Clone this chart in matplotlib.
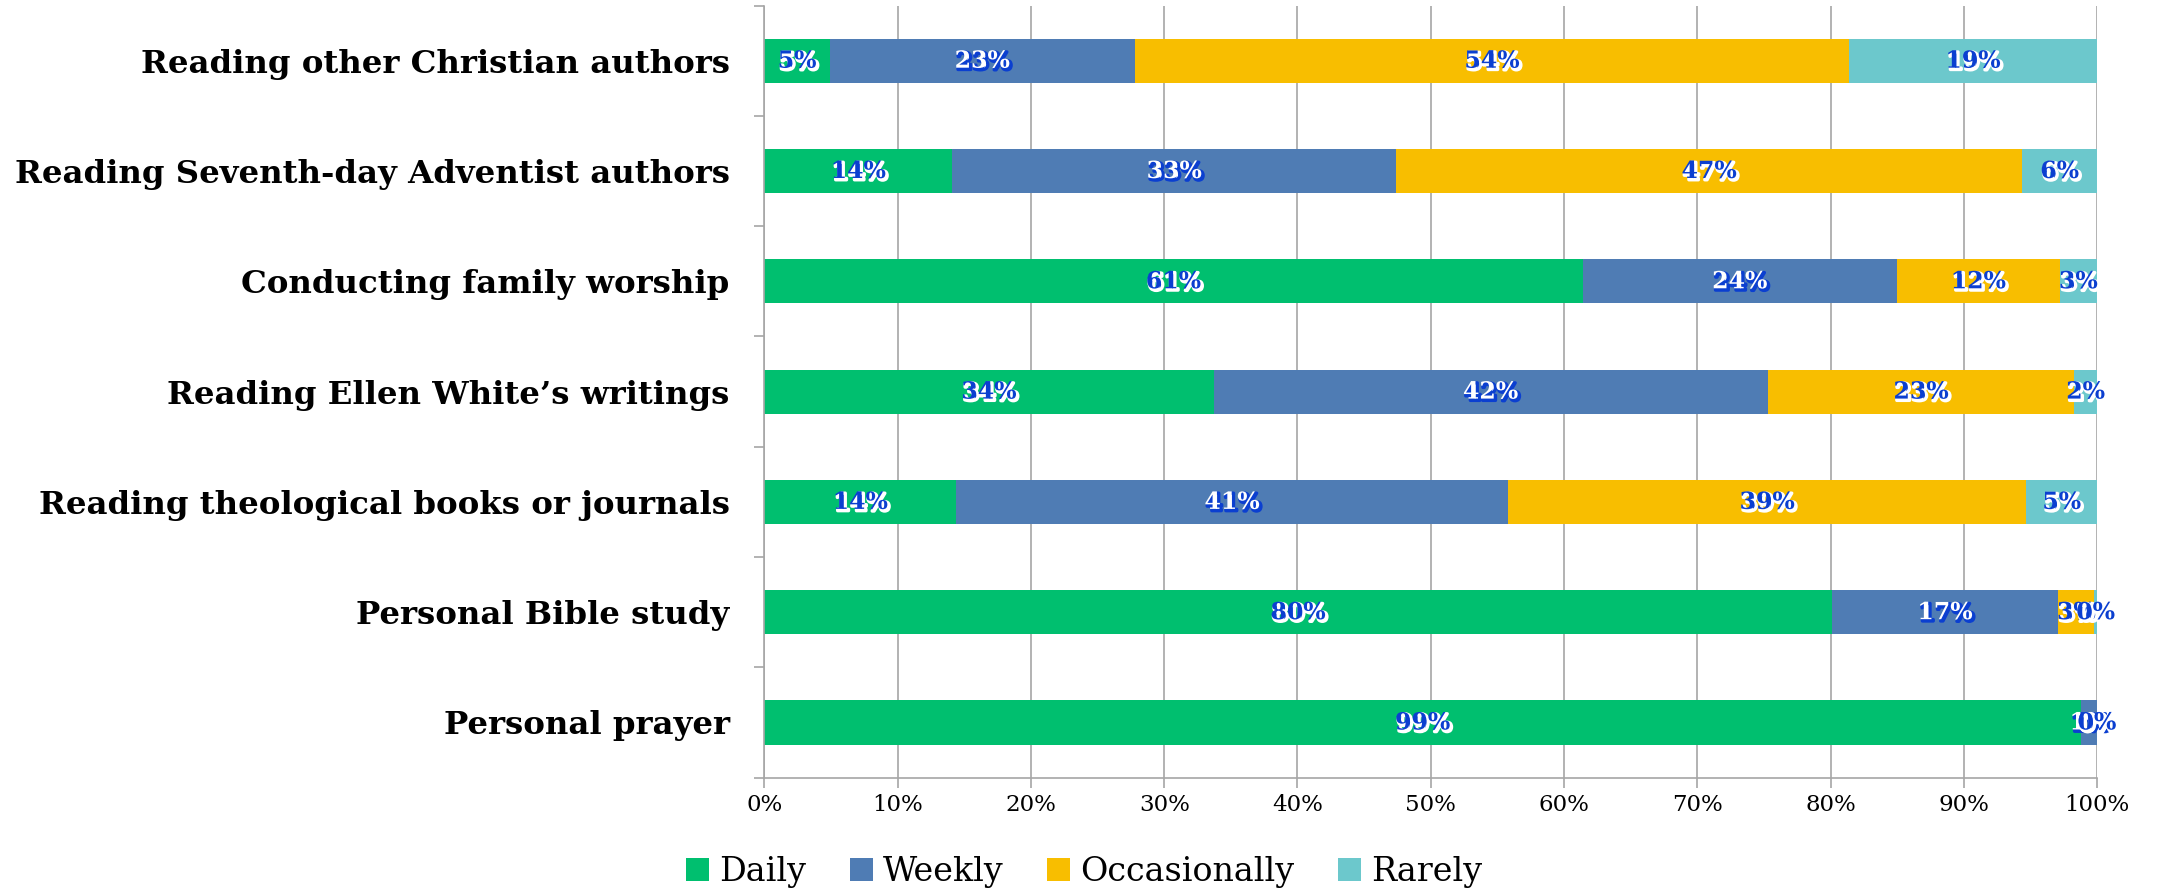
import matplotlib.pyplot as plt
import matplotlib.patheffects as pe
import numpy as np

# Activities listed top to bottom, share of respondents (%) per frequency
activities = [
    "Reading other Christian authors",
    "Reading Seventh-day Adventist authors",
    "Conducting family worship",
    "Reading Ellen White\u2019s writings",
    "Reading theological books or journals",
    "Personal Bible study",
    "Personal prayer",
]
daily = [4.9, 14.1, 61.4, 33.7, 14.4, 80.1, 98.8]
weekly = [22.9, 33.3, 23.6, 41.6, 41.4, 17.0, 1.2]
occasionally = [53.6, 47.0, 12.2, 23.0, 38.9, 2.7, 0.0]
rarely = [18.6, 5.6, 2.8, 1.7, 5.3, 0.2, 0.0]

frequencies = ["Daily", "Weekly", "Occasionally", "Rarely"]
colors = ["#00BF6F", "#4F7CB4", "#F8BE00", "#6CC8CC"]

plt.rcParams["font.family"] = "DejaVu Serif"

GRID = "#A6A6A6"
LABEL_BLUE = "#0B3FD0"

fig = plt.figure(figsize=(21.57, 8.93), dpi=100)
ax = fig.add_axes([0.3544, 0.1292, 0.6178, 0.8646])

y = np.arange(len(activities))
left = np.zeros(len(activities))
for name, vals, color in zip(frequencies, [daily, weekly, occasionally, rarely], colors):
    vals = np.array(vals, dtype=float)
    ax.barh(y, vals, left=left, height=0.4, color=color, label=name, zorder=2)

    if name == "Weekly":
        txt_color = "white"
        effects = [pe.Stroke(linewidth=2.4, foreground=LABEL_BLUE, offset=(1.3, -1.3)), pe.Normal()]
    else:
        txt_color = LABEL_BLUE
        effects = [pe.Stroke(linewidth=2.4, foreground="white", offset=(1.3, -1.3)), pe.Normal()]

    for yi, l, v in zip(y, left, vals):
        ax.text(l + v / 2, yi, f"{v:.0f}%", ha="center", va="center",
                fontsize=17, fontweight="bold", color=txt_color,
                path_effects=effects, zorder=4)
    left += vals

ax.set_xlim(0, 100)
ax.set_ylim(len(activities) - 0.5, -0.5)

# category labels at bar centres, tick marks between categories
ax.set_yticks(y)
ax.set_yticklabels(activities, fontsize=23.3, fontweight="bold")
ax.tick_params(axis="y", which="major", length=0, pad=25)
ax.set_yticks(np.arange(len(activities) + 1) - 0.5, minor=True)
ax.tick_params(axis="y", which="minor", length=7, width=1.2, color=GRID)

ax.set_xticks(np.arange(0, 101, 10))
ax.set_xticklabels([f"{t}%" for t in range(0, 101, 10)], fontsize=16.5)
ax.tick_params(axis="x", length=7, width=1.2, color=GRID, pad=5)

ax.xaxis.grid(True, color=GRID, linewidth=1.2, zorder=0)
ax.set_axisbelow(True)
for side in ["top", "right"]:
    ax.spines[side].set_visible(False)
for side in ["left", "bottom"]:
    ax.spines[side].set_color(GRID)
    ax.spines[side].set_linewidth(1.2)

fig.legend(loc="center", bbox_to_anchor=(0.5026, 0.0235), ncol=4, frameon=False,
           fontsize=24, handlelength=0.7, handleheight=0.7, handletextpad=0.3,
           columnspacing=1.3)

fig.savefig("out.png", dpi=100)
